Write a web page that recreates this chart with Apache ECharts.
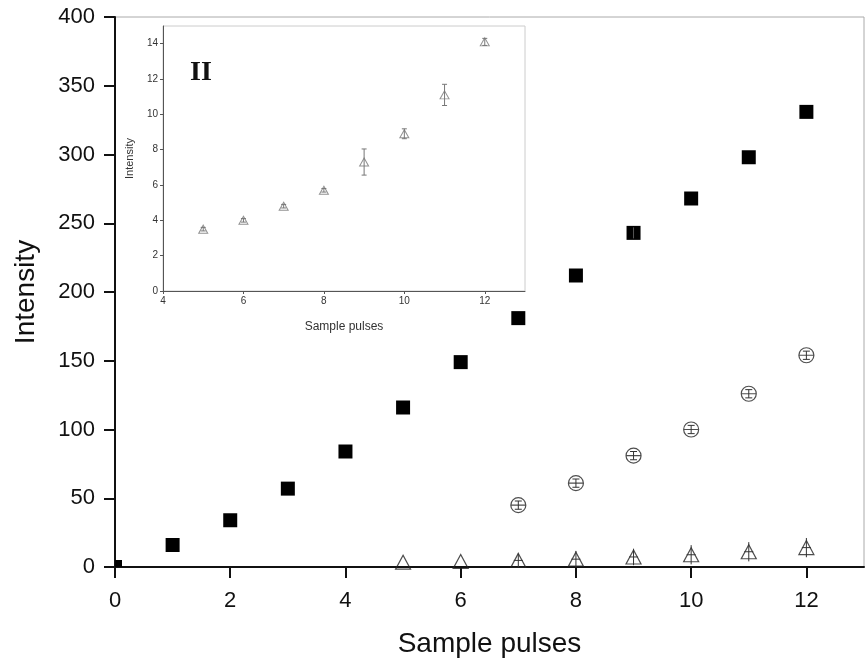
<!DOCTYPE html>
<html>
<head>
<meta charset="utf-8">
<script src="https://cdn.jsdelivr.net/npm/echarts@6/dist/echarts.min.js"></script>
<style>html,body{margin:0;padding:0;background:#fff}#c{width:867px;height:663px}</style>
</head>
<body>
<div id="c"></div>
<script>
// ---- data ----
const pulsesA = [0,1,2,3,4,5,6,7,8,9,10,11,12];
const intensityA = [0,16,34,57,84,116,149,181,212,243,268,298,331];
const errA = [0,0,0,0,0,0,0,0,0,4,0,0,0];

const pulsesB = [7,8,9,10,11,12];
const intensityB = [45,61,81,100,126,154];
const errB = [3,3,3,3,3,3];

const pulsesC = [5,6,7,8,9,10,11,12];
const intensityC = [3.5,4.0,4.8,5.7,7.3,8.9,11.1,14.1];
const errCMain = [0,0,5,6,6,7,7,7];
const errCInset = [0.1,0.1,0.1,0.1,0.74,0.28,0.6,0.2];

const mainXTicks = [0,2,4,6,8,10,12];
const insetXTicks = [4,6,8,10,12];
const insetYTicks = [0,2,4,6,8,10,12,14];

const FONT = 'Liberation Sans, Arial, sans-serif';

function zip3(xs, ys, es) { return xs.map((x, i) => [x, ys[i], es[i]]); }

function errRender(color, capW, center) {
  return function (params, api) {
    const x = api.value(0), y = api.value(1), e = api.value(2);
    const children = [];
    const c = api.coord([x, y]);
    if (e > 0) {
      const top = api.coord([x, y + e]);
      const bot = api.coord([x, y - e]);
      const st = { stroke: color, lineWidth: 1 };
      children.push({ type: 'line', shape: { x1: c[0], y1: top[1], x2: c[0], y2: bot[1] }, style: st });
      if (capW > 0) {
        children.push({ type: 'line', shape: { x1: c[0] - capW / 2, y1: top[1], x2: c[0] + capW / 2, y2: top[1] }, style: st });
        children.push({ type: 'line', shape: { x1: c[0] - capW / 2, y1: bot[1], x2: c[0] + capW / 2, y2: bot[1] }, style: st });
      }
      if (center > 0) {
        children.push({ type: 'line', shape: { x1: c[0] - center / 2, y1: c[1], x2: c[0] + center / 2, y2: c[1] }, style: st });
      }
    }
    return { type: 'group', children: children };
  };
}

const chart = echarts.init(document.getElementById('c'), null, { renderer: 'canvas' });

const option = {
  animation: false,
  backgroundColor: '#fff',
  grid: [
    { left: 115, top: 17, right: 3, bottom: 95, show: true, borderColor: '#aaa', borderWidth: 1 },
    { left: 163, top: 26, width: 362, height: 265, show: true, borderColor: '#ccc', borderWidth: 1, backgroundColor: '#fff' }
  ],
  xAxis: [
    {
      gridIndex: 0, type: 'value', min: 0, max: 13, interval: 1,
      name: 'Sample pulses', nameLocation: 'middle', nameGap: 63,
      nameTextStyle: { fontFamily: FONT, fontSize: 28, color: '#111' },
      axisLine: { onZero: false, lineStyle: { color: '#111', width: 2 } },
      axisTick: { show: true, length: 11, inside: false, lineStyle: { color: '#111', width: 2 }, customValues: mainXTicks },
      axisLabel: { fontFamily: FONT, fontSize: 22, color: '#111', margin: 23, customValues: mainXTicks },
      splitLine: { show: false }
    },
    {
      gridIndex: 1, type: 'value', min: 4, max: 13, interval: 1,
      name: 'Sample pulses', nameLocation: 'middle', nameGap: 30,
      nameTextStyle: { fontFamily: FONT, fontSize: 12, color: '#333' },
      axisLine: { onZero: false, lineStyle: { color: '#555', width: 1 } },
      axisTick: { show: true, length: 3, lineStyle: { color: '#555' }, customValues: insetXTicks },
      axisLabel: { fontFamily: FONT, fontSize: 10, color: '#333', margin: 5, customValues: insetXTicks },
      splitLine: { show: false }
    }
  ],
  yAxis: [
    {
      gridIndex: 0, type: 'value', min: 0, max: 400, interval: 50,
      name: 'Intensity', nameLocation: 'middle', nameGap: 75,
      nameTextStyle: { fontFamily: FONT, fontSize: 28, color: '#111' },
      axisLine: { show: true, onZero: false, lineStyle: { color: '#111', width: 2 } },
      axisTick: { show: true, length: 11, lineStyle: { color: '#111', width: 2 } },
      axisLabel: { fontFamily: FONT, fontSize: 22, color: '#111', margin: 20 },
      splitLine: { show: false }
    },
    {
      gridIndex: 1, type: 'value', min: 0, max: 15, interval: 1,
      name: 'Intensity', nameLocation: 'middle', nameGap: 28,
      nameTextStyle: { fontFamily: FONT, fontSize: 11, color: '#333' },
      axisLine: { show: true, onZero: false, lineStyle: { color: '#555', width: 1 } },
      axisTick: { show: true, length: 3, lineStyle: { color: '#555' }, customValues: insetYTicks },
      axisLabel: { fontFamily: FONT, fontSize: 10, color: '#333', margin: 5, customValues: insetYTicks },
      splitLine: { show: false }
    }
  ],
  graphic: [
    { type: 'text', left: 190, top: 59, style: { text: 'II', font: 'bold 28px "Liberation Serif", "DejaVu Serif", serif', fill: '#111' } }
  ],
  series: [
    // main: filled squares (clipped to plot area)
    {
      type: 'custom', xAxisIndex: 0, yAxisIndex: 0, z: 3,
      data: zip3(pulsesA, intensityA, errA),
      renderItem: function (params, api) {
        const c = api.coord([api.value(0), api.value(1)]);
        const s = 14;
        const cs = params.coordSys;
        const rect = echarts.graphic.clipRectByRect(
          { x: c[0] - s / 2, y: c[1] - s / 2, width: s, height: s },
          { x: cs.x, y: cs.y, width: cs.width, height: cs.height });
        return rect && { type: 'rect', shape: rect, style: { fill: '#000' } };
      }
    },
    {
      type: 'custom', xAxisIndex: 0, yAxisIndex: 0, z: 4,
      data: zip3(pulsesA, intensityA, errA),
      renderItem: errRender('#555', 0, 0)
    },
    // main: hollow circles
    {
      type: 'scatter', xAxisIndex: 0, yAxisIndex: 0, z: 3,
      symbol: 'path://M0,10A10,10,0,1,1,20,10A10,10,0,1,1,0,10ZM0,10L20,10',
      symbolSize: 15,
      itemStyle: { color: 'transparent', borderColor: '#222', borderWidth: 1.2 },
      data: pulsesB.map((x, i) => [x, intensityB[i]])
    },
    {
      type: 'custom', xAxisIndex: 0, yAxisIndex: 0, z: 4,
      data: zip3(pulsesB, intensityB, errB),
      renderItem: errRender('#333', 7, 0)
    },
    // main: hollow triangles
    {
      type: 'scatter', xAxisIndex: 0, yAxisIndex: 0, z: 3,
      symbol: 'triangle', symbolSize: [15, 14],
      itemStyle: { color: 'transparent', borderColor: '#222', borderWidth: 1.2 },
      data: pulsesC.map((x, i) => [x, intensityC[i]])
    },
    {
      type: 'custom', xAxisIndex: 0, yAxisIndex: 0, z: 4,
      data: zip3(pulsesC, intensityC, errCMain),
      renderItem: errRender('#333', 0, 9)
    },
    // inset: triangles with error bars
    {
      type: 'scatter', xAxisIndex: 1, yAxisIndex: 1, z: 6,
      symbol: 'triangle', symbolSize: [9, 8],
      itemStyle: { color: 'transparent', borderColor: '#777', borderWidth: 1 },
      data: pulsesC.map((x, i) => [x, intensityC[i]])
    },
    {
      type: 'custom', xAxisIndex: 1, yAxisIndex: 1, z: 6,
      data: zip3(pulsesC, intensityC, errCInset),
      renderItem: errRender('#777', 5, 0)
    }
  ]
};
chart.setOption(option);
</script>
</body>
</html>
